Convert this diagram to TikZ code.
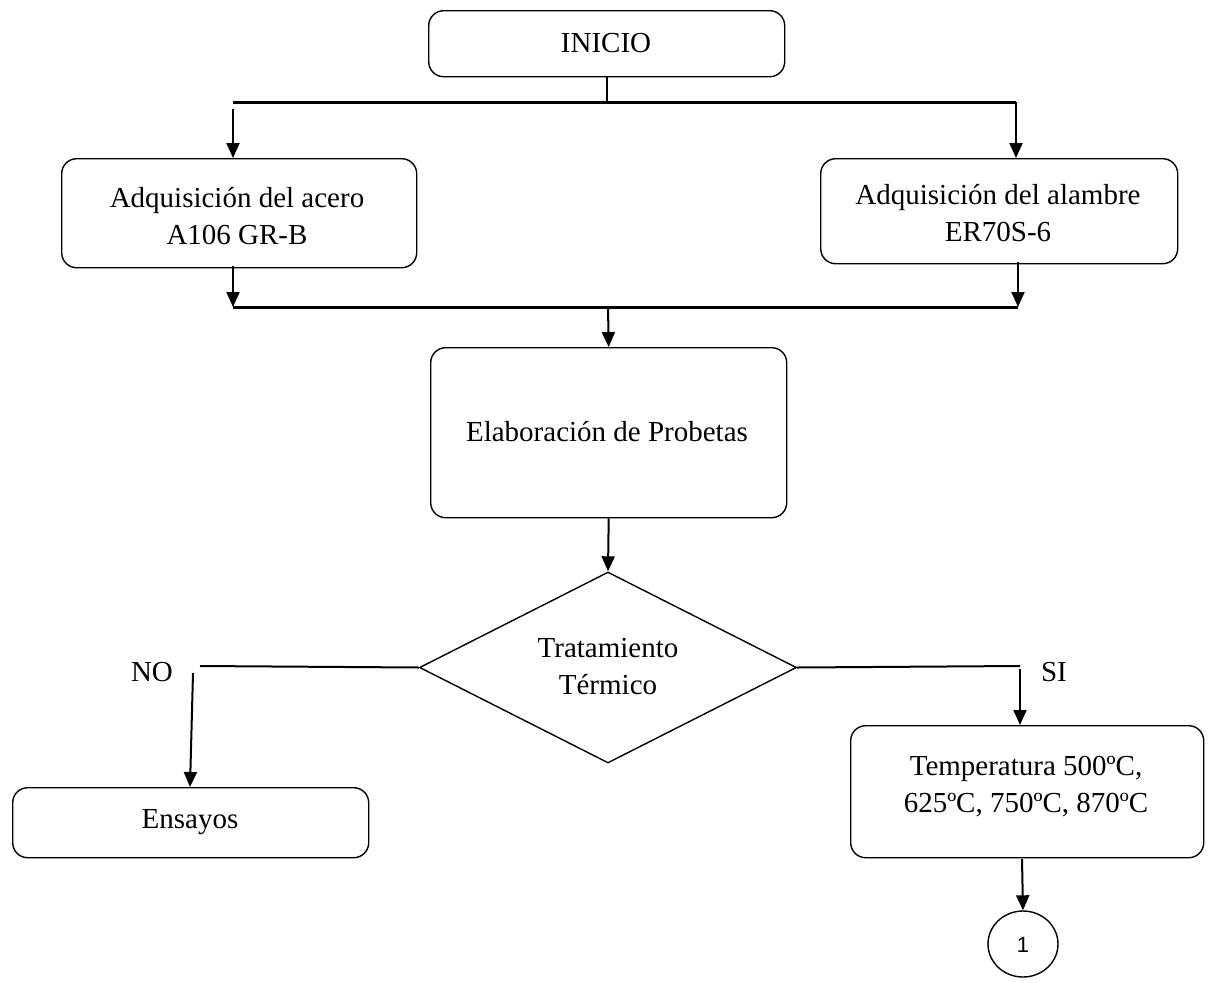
\documentclass[tikz,border=0pt]{standalone}
\usepackage{fontspec}
\setmainfont{Liberation Serif}
\newfontfamily\sansf{Liberation Sans}
\usetikzlibrary{shapes.geometric,arrows.meta}
\begin{document}
\begin{tikzpicture}[x=1pt,y=-1pt,
  every node/.style={font=\fontsize{29}{37}\selectfont, align=center, inner sep=0pt},
  box/.style={draw, line width=1.4pt, rounded corners=15pt, anchor=north west},
  conn/.style={line width=2pt},
  bar/.style={line width=3pt},
  arr/.style={line width=2pt, -{Triangle[length=15pt,width=13pt]}},
  lbl/.style={font=\fontsize{29}{37}\selectfont}
]
\useasboundingbox (0,0) rectangle (1208,983);
\clip (0,0) rectangle (1208,983);

% boxes
\node[box, minimum width=356pt, minimum height=66pt] (inicio) at (428,10) {};
\node at (606,43) {INICIO};

\node[box, minimum width=355pt, minimum height=109pt] (acero) at (61,158) {};
\node at (237,216) {Adquisición del acero\\A106 GR-B};

\node[box, minimum width=357pt, minimum height=105pt] (alambre) at (820,158) {};
\node at (998,213) {Adquisición del alambre\\ER70S-6};

\node[box, minimum width=356pt, minimum height=170pt] (prob) at (430,347) {};
\node at (607,432) {Elaboración de Probetas};

\node[draw, line width=1.4pt, diamond, aspect=2, minimum width=377pt, minimum height=191pt] (trat) at (608,667.5) {};
\node at (608,667) {Tratamiento\\Térmico};

\node[box, minimum width=356pt, minimum height=70pt] (ens) at (12,787) {};
\node at (190,822) {Ensayos};

\node[box, minimum width=353pt, minimum height=132pt] (temp) at (850,725) {};
\node at (1026,787) {Temperatura 500ºC,\\625ºC, 750ºC, 870ºC};

\node[draw, line width=1.4pt, ellipse, minimum width=70pt, minimum height=66pt] (c1) at (1023,944) {};
\node[font=\sansf\fontsize{22}{26}\selectfont] at (1023,945) {1};

\node[lbl] (no) at (152,672) {NO};
\node[lbl] (si) at (1054,672) {SI};

% coordinates
\coordinate (tL) at (233,102);
\coordinate (tR) at (1016,102);
\coordinate (tLs) at (233,109);
\coordinate (mL) at (233,307);
\coordinate (mR) at (1018,307);
\coordinate (mC) at (608,307);
\coordinate (noE) at (200,666);
\coordinate (noS) at (193,673);
\coordinate (noT) at (190,787);
\coordinate (siE) at (1020,666);
\coordinate (siS) at (1020,669);

% connectors
\draw[conn] (inicio.south) -- (inicio.south |- tL);
\draw[bar] (tL) -- (tR);
\draw[arr] (tLs) -- (tLs |- acero.north);
\draw[arr] (tR) -- (tR |- alambre.north);
\draw[arr] (233,266) -- (mL);
\draw[arr] (1018,262) -- (mR);
\draw[bar] (mL) -- (mR);
\draw[arr] (mC) -- (prob.north);
\draw[arr] (prob.south) -- (trat.north);
\draw[conn] (trat.west) -- (noE);
\draw[arr] (noS) -- (noT);
\draw[conn] (trat.east) -- (siE);
\draw[arr] (siS) -- (siS |- temp.north);
\draw[arr] (1022,859) -- (c1.north);
\end{tikzpicture}
\end{document}
